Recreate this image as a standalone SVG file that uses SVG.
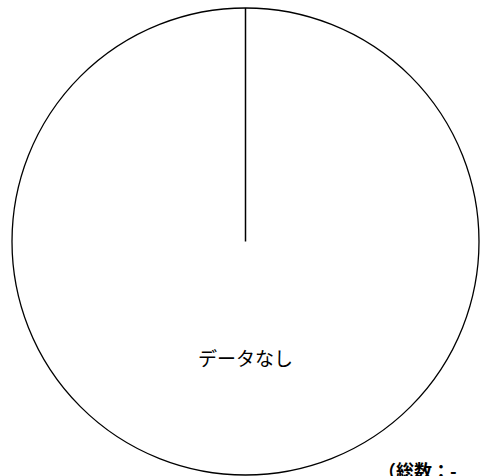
<svg xmlns="http://www.w3.org/2000/svg" width="481" height="476" viewBox="0 0 481 476">
<style>
.pie{fill:#fff;stroke:#000;stroke-width:1.3}
.lbl{font-family:"Noto Sans CJK JP","Noto Sans",sans-serif;fill:#000}
</style>
<rect width="481" height="476" fill="#fff"/>
<g id="pie">
<circle class="pie" cx="245.5" cy="241.5" r="233.5"/>
</g>
<g id="connectors">
<line x1="245.5" y1="8" x2="245.5" y2="241.5" stroke="#000" stroke-width="1.5"/>
</g>
<g id="label-nodata">
<text class="lbl" x="245.5" y="366" font-size="19" text-anchor="middle">データなし</text>
</g>
<g id="total">
<text class="lbl" x="378" y="478" font-size="18" font-weight="bold">（総数：-</text>
</g>
</svg>
